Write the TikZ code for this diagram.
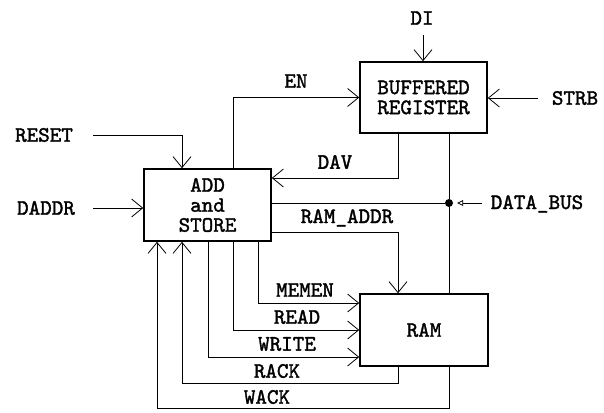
\documentclass[tikz,border=0pt]{standalone}
\usepackage{fontspec}
\newfontfamily\dfont{lmmono10-regular.otf}[FakeBold=1.6]
\usetikzlibrary{arrows.meta}
\begin{document}
\begin{tikzpicture}[x=1pt,y=-1pt,
  font=\fontsize{22}{20}\selectfont\dfont,
  box/.style={draw,line width=1.6pt,inner sep=0pt,align=center},
  wire/.style={line width=0.8pt},
  arr/.style={wire,-{Straight Barb[length=11pt,width=18pt,line width=0.8pt]}},
  lbl/.style={inner sep=0pt,anchor=center}]
\useasboundingbox (0,0) rectangle (604,412);
% blocks
\node[box,minimum width=127pt,minimum height=72pt] (add) at (207.5,205) {ADD\\and\\STORE};
\node[box,minimum width=127pt,minimum height=71pt] (br) at (423.5,97.5) {BUFFERED\\REGISTER};
\node[box,minimum width=128pt,minimum height=72pt] (ram) at (424,330) {RAM};
\node[circle,fill,inner sep=0pt,minimum size=8pt] (j) at (449,203) {};
% external labels
\node[lbl] (di) at (422,18) {DI};
\node[lbl] (strb) at (575,98) {STRB};
\node[lbl] (reset) at (44,135) {RESET};
\node[lbl] (daddr) at (46,208) {DADDR};
\node[lbl] (dbus) at (537,204) {DATA\_BUS};
\coordinate (diS) at (423,35);
\coordinate (strbS) at (538,98);
\coordinate (resetS) at (93,135);
\coordinate (daddrS) at (93,208);
\coordinate (dbusS) at (482,203);
% inputs
\draw[arr] (diS) -- (diS |- br.north);
\draw[arr] (strbS) -- (strbS -| br.east);
\draw[arr] (resetS) -| ([xshift=-25.5pt]add.north);
\draw[arr] (daddrS) -- (daddrS -| add.west);
% EN
\draw[arr] ([xshift=25.5pt]add.north) |- (br.west);
\node[lbl] at (296,81) {EN};
% DAV
\draw[arr] ([xshift=-25.5pt]br.south) |- ([yshift=27pt]add.east);
\node[lbl] at (335,162) {DAV};
% data bus
\draw[wire] ([yshift=2pt]add.east) -- (j);
\draw[wire] ([xshift=25.5pt]br.south) -- (j) -- ([xshift=25pt]ram.north);
\draw[wire,-{Triangle[open,length=6pt,width=6pt,line width=0.8pt]},shorten >=4pt] (dbusS) -- (j);
% RAM_ADDR
\draw[arr] ([yshift=-27pt]add.east) -| ([xshift=-26pt]ram.north);
\node[lbl] at (347,218) {RAM\_ADDR};
% control lines
\draw[arr] ([xshift=50.5pt]add.south) |- ([yshift=27pt]ram.west);
\node[lbl] at (305,290) {MEMEN};
\draw[arr] ([xshift=25.5pt]add.south) |- (ram.west);
\node[lbl] at (297,317) {READ};
\draw[arr] ([xshift=0.5pt]add.south) |- ([yshift=-27pt]ram.west);
\node[lbl] at (287,344) {WRITE};
\draw[arr] ([xshift=-26pt]ram.south) -- ++(0,17) -| ([xshift=-25.5pt]add.south);
\node[lbl] at (277,371) {RACK};
\draw[arr] ([xshift=25pt]ram.south) -- ++(0,42) -| ([xshift=-50.5pt]add.south);
\node[lbl] at (267,397) {WACK};
\end{tikzpicture}
\end{document}
